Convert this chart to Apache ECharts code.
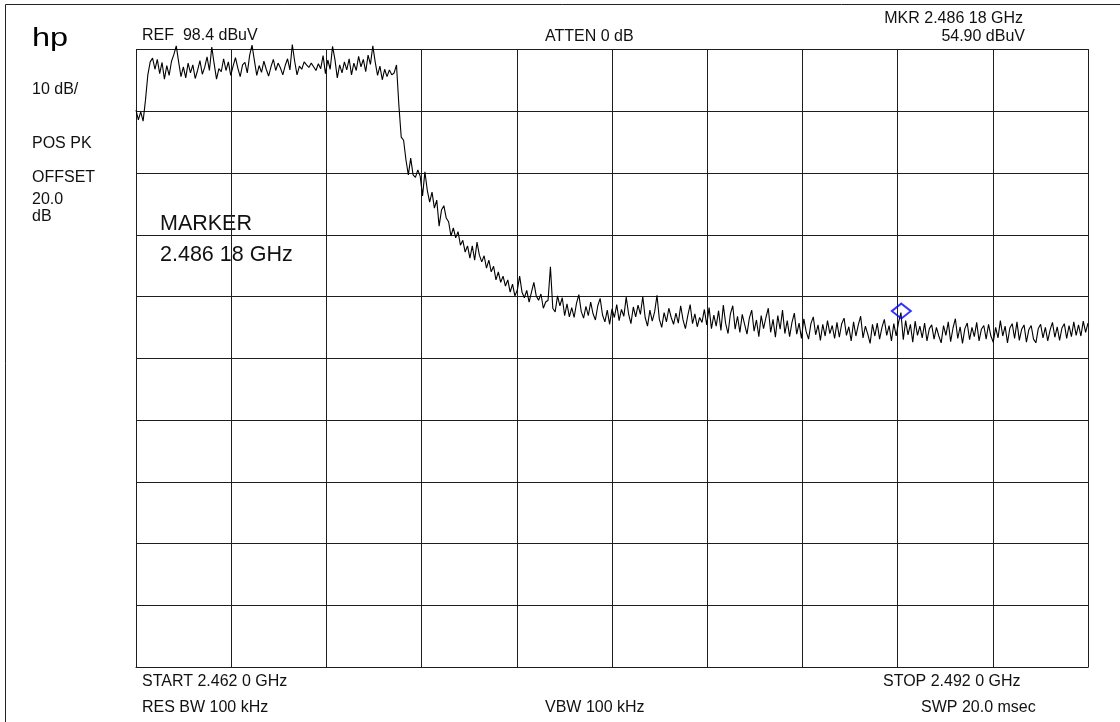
<!DOCTYPE html>
<html><head><meta charset="utf-8">
<script src="https://cdn.jsdelivr.net/npm/echarts@6/dist/echarts.min.js"></script>
<style>html,body{margin:0;padding:0;background:#fff}#c{width:1120px;height:722px}</style>
</head><body><div id="c"></div>
<script>
const START_GHZ = 2.462, STOP_GHZ = 2.492;
const REF_DBUV = 98.4, DB_PER_DIV = 10, DIVS = 10;
const MARKER_GHZ = 2.48618, MARKER_DBUV = 54.90;

const traceDbuv = [
88.6,87.0,88.3,86.8,90.2,94.3,96.4,
97.0,95.2,96.8,94.5,96.3,93.6,95.8,94.2,96.5,97.6,
99.0,96.4,94.0,95.6,93.8,96.2,94.6,95.9,93.7,95.0,
96.6,94.4,95.5,97.2,95.0,98.8,96.1,93.6,95.3,94.8,
96.9,95.0,96.4,94.2,95.7,97.1,95.4,94.0,95.9,96.3,
94.6,97.5,99.1,96.6,94.2,95.8,94.7,96.5,95.2,94.1,
95.6,96.8,95.0,96.2,95.4,94.3,95.8,96.9,95.1,99.2,
96.5,94.3,95.7,95.2,96.4,95.9,95.5,96.2,95.6,95.0,
96.1,95.3,97.4,94.5,96.7,95.2,98.9,96.8,93.8,95.9,
94.6,96.4,95.1,96.9,94.3,96.2,95.0,97.3,95.6,96.8,
94.8,97.5,96.0,99.0,96.4,94.2,95.7,93.5,95.2,94.0,
95.1,94.3,94.6,95.9,
89.4,84.2,83.7,80.5,78.1,80.8,78.1,77.7,78.9,77.9,
74.7,78.6,75.6,73.7,75.3,72.7,74.0,69.8,72.4,73.1,
71.1,70.5,68.2,69.5,67.9,68.9,66.7,67.5,65.6,66.6,
64.6,66.6,64.3,67.2,65.1,64.0,65.0,63.0,64.3,62.4,
63.3,61.1,62.4,60.7,61.7,60.1,61.1,59.1,60.4,58.5,
59.4,61.7,59.1,58.2,59.4,57.5,59.1,60.7,58.5,57.8,
58.8,56.5,57.5,57.8,63.2,56.5,55.9,58.5,56.9,58.2,55.3,
57.2,55.1,56.6,55.0,57.3,58.7,56.0,54.9,56.8,55.3,
57.5,55.6,54.6,56.9,58.1,55.4,54.3,56.2,53.9,56.4,
55.0,57.1,54.5,56.3,55.2,58.3,55.6,54.0,56.7,55.1,
57.0,55.5,58.4,55.0,53.6,56.2,54.4,55.9,58.6,54.7,
53.4,55.8,54.3,56.5,55.0,53.9,55.7,54.1,56.9,54.6,
53.2,55.3,57.1,54.0,55.6,53.5,55.0,54.2,56.3,53.8,
56.6,53.2,55.4,53.6,56.1,52.9,57.0,54.0,52.4,55.6,
56.9,53.1,55.2,52.6,55.5,53.9,52.3,54.9,56.2,52.8,
54.6,51.9,55.3,53.2,55.0,56.5,52.6,54.7,51.8,55.3,
53.1,56.2,52.4,54.5,51.9,54.2,55.7,52.3,54.1,51.6,
54.8,52.7,51.5,54.0,55.1,52.2,53.8,51.3,53.9,52.0,
54.5,52.4,53.7,51.6,54.2,51.8,54.0,54.9,52.1,53.5,
51.2,54.3,52.0,53.8,55.2,51.7,53.6,52.3,50.8,53.9,
52.0,54.1,51.5,53.4,54.7,52.1,53.7,51.2,54.0,52.0,
54.2,55.8,51.4,54.5,52.2,53.9,51.0,54.4,52.1,53.6,
51.7,54.1,51.2,53.2,53.8,51.5,53.4,52.0,50.9,53.7,
52.1,54.3,51.1,53.3,54.8,51.6,53.5,50.8,53.2,54.1,
51.4,53.4,51.9,54.2,51.2,53.1,53.7,51.5,53.9,52.0,
51.0,53.4,51.7,54.5,52.0,53.6,50.9,53.3,54.0,51.6,
54.3,51.3,53.1,53.8,51.0,53.0,53.7,51.5,50.9,53.2,
53.9,51.7,53.4,51.2,53.0,54.2,51.8,53.5,51.3,53.3,
54.0,51.6,53.7,51.9,54.3,52.1,53.8,52.0,54.4,52.6,
54.1
];

const headerLeft = ['10 dB/', 'POS PK', 'OFFSET', '20.0', 'dB'];

const FONT = '"Liberation Sans", Arial, sans-serif';
const n = traceDbuv.length;
const step = (STOP_GHZ - START_GHZ) / (n - 1);
const traceData = traceDbuv.map((v, i) => [START_GHZ + i * step, v]);

function txt(text, x, y, size, align) {
  return { type: 'text', x: x, y: y, silent: true,
    style: { text: text, font: size + 'px ' + FONT, fill: '#111', textAlign: align || 'left', textVerticalAlign: 'bottom' } };
}

const chart = echarts.init(document.getElementById('c'), null, { renderer: 'canvas' });
const gridLine = { show: true, lineStyle: { color: '#1e1e1e', width: 1 } };
chart.setOption({
  animation: false,
  backgroundColor: '#fff',
  grid: { left: 136, top: 49.5, right: 32, bottom: 55, containLabel: false },
  xAxis: [
    { type: 'value', min: START_GHZ, max: STOP_GHZ, show: false },
    { type: 'value', min: 0, max: DIVS, interval: 1, position: 'bottom',
      axisLine: { show: true, lineStyle: { color: '#1e1e1e', width: 1 } }, axisTick: { show: false }, axisLabel: { show: false }, splitLine: gridLine }
  ],
  yAxis: [
    { type: 'value', min: REF_DBUV - DB_PER_DIV * DIVS, max: REF_DBUV, show: false },
    { type: 'value', min: 0, max: DIVS, interval: 1,
      axisLine: { show: true, lineStyle: { color: '#1e1e1e', width: 1 } }, axisTick: { show: false }, axisLabel: { show: false }, splitLine: gridLine }
  ],
  series: [
    { type: 'line', xAxisIndex: 0, yAxisIndex: 0, data: traceData, showSymbol: false, symbol: 'none', clip: false,
      lineStyle: { color: '#000', width: 1.1 }, z: 5 },
    { type: 'scatter', xAxisIndex: 0, yAxisIndex: 0, data: [[MARKER_GHZ, MARKER_DBUV]], symbol: 'diamond', symbolSize: [19, 15], symbolOffset: [-2, -7],
      itemStyle: { color: 'rgba(0,0,0,0)', borderColor: '#0000ff', borderWidth: 2 }, z: 6 }
  ],
  graphic: [
    { type: 'line', silent: true, shape: { x1: 5.5, y1: 4.5, x2: 1120, y2: 4.5 }, style: { stroke: '#222', lineWidth: 1 } },
    { type: 'line', silent: true, shape: { x1: 5.5, y1: 4.5, x2: 5.5, y2: 722 }, style: { stroke: '#222', lineWidth: 1 } },
    { type: 'text', x: 32, y: 51.5, silent: true, scaleX: 1.25,
      style: { text: 'hp', font: '26px ' + FONT, fill: '#000', textAlign: 'left', textVerticalAlign: 'bottom' } },
    txt('REF  98.4 dBuV', 142, 43.5, 16),
    txt('ATTEN 0 dB', 545, 45, 16),
    txt('MKR 2.486 18 GHz', 1023, 26.5, 16, 'right'),
    txt('54.90 dBuV', 1025, 44.5, 16, 'right'),
    txt(headerLeft[0], 32, 97.5, 16),
    txt(headerLeft[1], 32, 152, 16),
    txt(headerLeft[2], 32, 186, 16),
    txt(headerLeft[3], 32, 207.5, 16),
    txt(headerLeft[4], 32, 225, 16),
    txt('MARKER', 160, 235.5, 21.5),
    txt('2.486 18 GHz', 160, 266, 21.5),
    txt('START 2.462 0 GHz', 142, 689.5, 16),
    txt('RES BW 100 kHz', 142, 715.5, 16),
    txt('VBW 100 kHz', 545, 715.5, 16),
    txt('STOP 2.492 0 GHz', 883, 689.5, 16),
    txt('SWP 20.0 msec', 921, 715.5, 16)
  ]
});
</script></body></html>
